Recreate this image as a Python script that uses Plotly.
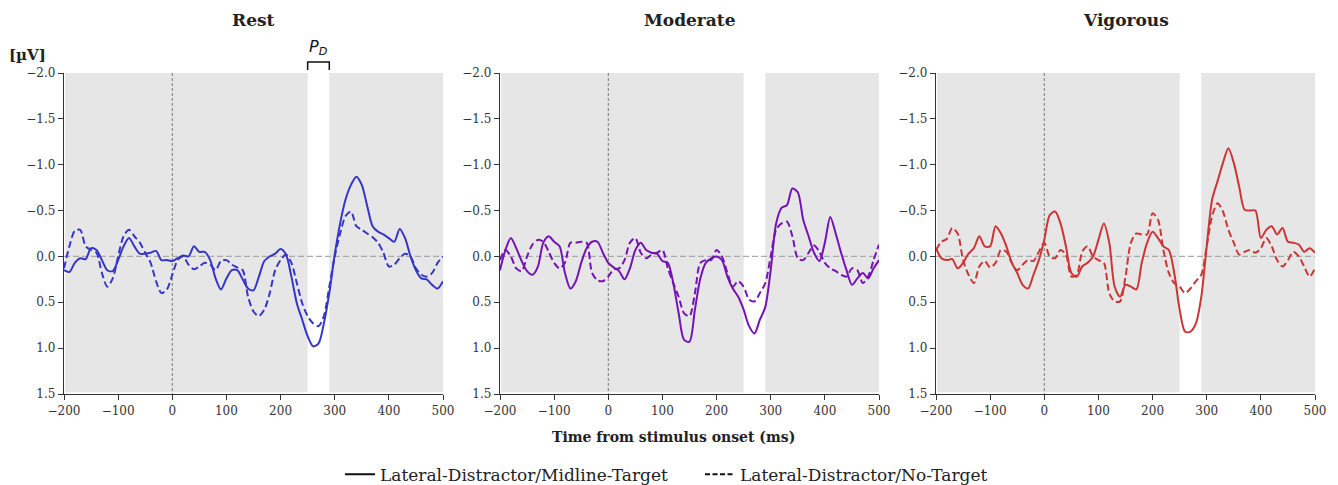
import plotly.graph_objects as go

# ---------------- data ----------------
time_ms = list(range(-200, 501, 10))

rest_midline = [0.15, 0.17, 0.07, 0.02, 0.03, -0.09, -0.07, 0.04, 0.15, 0.16,
                0.04, -0.11, -0.2, -0.11, -0.03, -0.03, -0.04, -0.06, 0.04, 0.04,
                0.05, 0.02, -0.01, 0.0, -0.11, -0.05, -0.05, 0.04, 0.24, 0.36,
                0.24, 0.15, 0.15, 0.25, 0.35, 0.37, 0.22, 0.05, 0.0, -0.03,
                -0.08, -0.02, 0.22, 0.51, 0.69, 0.87, 0.98, 0.95, 0.73, 0.4,
                -0.02, -0.36, -0.62, -0.78, -0.87, -0.78, -0.55, -0.33, -0.27, -0.24,
                -0.2, -0.16, -0.3, -0.2, 0.0, 0.15, 0.24, 0.25, 0.31, 0.35, 0.27]
rest_notarget = [0.13, -0.11, -0.28, -0.29, -0.11, -0.07, -0.04, 0.18, 0.33, 0.24,
                 0.0, -0.22, -0.29, -0.22, -0.15, -0.04, 0.07, 0.27, 0.4, 0.36,
                 0.2, 0.04, 0.0, 0.09, 0.14, 0.11, 0.07, 0.09, 0.15, 0.05,
                 0.04, 0.09, 0.12, 0.15, 0.44, 0.6, 0.65, 0.58, 0.4, 0.15,
                 0.04, -0.02, 0.07, 0.29, 0.51, 0.65, 0.73, 0.76, 0.65, 0.33,
                 0.0, -0.25, -0.44, -0.49, -0.33, -0.29, -0.25, -0.21, -0.15, -0.04,
                 0.11, 0.09, 0.02, -0.03, 0.0, 0.13, 0.2, 0.22, 0.18, 0.07, 0.0]

moderate_midline = [0.15, -0.07, -0.2, -0.09, 0.05, 0.16, 0.2, 0.11, -0.15, -0.22,
                    -0.16, -0.11, 0.18, 0.35, 0.27, 0.07, -0.09, -0.16, -0.16, -0.04,
                    0.07, 0.12, 0.16, 0.25, 0.13, -0.07, -0.15, -0.07, -0.04, -0.03,
                    0.05, 0.07, 0.29, 0.62, 0.91, 0.93, 0.58, 0.24, 0.07, 0.02,
                    0.0, 0.04, 0.22, 0.35, 0.44, 0.58, 0.76, 0.84, 0.69, 0.55,
                    0.15, -0.36, -0.53, -0.56, -0.74, -0.7, -0.4, -0.22, -0.04, 0.05,
                    -0.15, -0.43, -0.25, -0.04, 0.15, 0.31, 0.24, 0.18, 0.24, 0.13, 0.04]
moderate_notarget = [0.04, -0.07, 0.0, 0.13, 0.16, 0.0, -0.13, -0.18, -0.16, -0.05,
                     0.07, 0.13, 0.07, -0.15, -0.15, -0.16, -0.15, 0.18, 0.26, 0.27,
                     0.22, 0.14, 0.13, 0.04, -0.15, -0.2, -0.04, 0.02, -0.02, -0.04,
                     -0.07, 0.13, 0.29, 0.44, 0.62, 0.65, 0.4, 0.07, 0.04, 0.04,
                     -0.07, 0.0, 0.18, 0.33, 0.27, 0.33, 0.47, 0.49, 0.4, 0.29,
                     0.0, -0.29, -0.36, -0.38, -0.22, 0.02, 0.04, -0.04, -0.12, -0.05,
                     0.07, 0.13, 0.16, 0.2, 0.22, 0.13, 0.15, 0.29, 0.22, 0.04, -0.13]

vigorous_midline = [-0.09, 0.02, 0.04, 0.03, 0.13, 0.07, -0.03, -0.09, -0.22, -0.11,
                    -0.11, -0.33, -0.25, -0.11, 0.07, 0.18, 0.31, 0.35, 0.2, 0.04,
                    -0.18, -0.45, -0.49, -0.36, -0.11, 0.18, 0.22, 0.11, 0.07, 0.0,
                    -0.18, -0.36, -0.15, 0.33, 0.44, 0.31, 0.33, 0.36, 0.07, -0.15,
                    -0.27, -0.2, -0.11, -0.07, 0.18, 0.58, 0.82, 0.82, 0.73, 0.44,
                    -0.11, -0.62, -0.82, -1.02, -1.18, -1.02, -0.76, -0.51, -0.5, -0.5,
                    -0.2, -0.29, -0.33, -0.24, -0.31, -0.16, -0.15, -0.13, -0.05, -0.09, -0.04]
vigorous_notarget = [-0.07, -0.16, -0.19, -0.31, -0.25, 0.04, 0.2, 0.29, 0.11, 0.05,
                     0.12, 0.07, -0.07, -0.05, 0.07, 0.15, 0.09, 0.04, 0.05, -0.05,
                     -0.15, 0.0, 0.02, -0.07, -0.02, 0.22, 0.2, -0.05, -0.11, 0.0,
                     0.04, 0.07, 0.4, 0.49, 0.49, 0.22, -0.15, -0.25, -0.24, -0.24,
                     -0.47, -0.4, -0.07, 0.18, 0.29, 0.33, 0.4, 0.35, 0.27, 0.2,
                     -0.11, -0.44, -0.58, -0.49, -0.29, -0.15, -0.02, -0.05, -0.07, -0.04,
                     -0.09, -0.2, -0.11, 0.04, 0.11, 0.04, -0.05, 0.0, 0.11, 0.22, 0.13]

panel_titles = ["Rest", "Moderate", "Vigorous"]
panel_colors = ["#3535c8", "#7512b5", "#cc3535"]
panel_series = [(rest_midline, rest_notarget),
                (moderate_midline, moderate_notarget),
                (vigorous_midline, vigorous_notarget)]
legend_labels = ["Lateral-Distractor/Midline-Target", "Lateral-Distractor/No-Target"]
x_ticks = [-200, -100, 0, 100, 200, 300, 400, 500]
y_ticks = [-2.0, -1.5, -1.0, -0.5, 0.0, 0.5, 1.0, 1.5]
window = (250, 290)

# ---------------- layout helpers ----------------
W, H = 1338, 485
x_domains = [(64 / W, 443 / W), (500 / W, 879 / W), (936 / W, 1315 / W)]
y_domain = (1 - 394 / H, 1 - 73 / H)
FONT = "DejaVu Serif"

fig = go.Figure()
shapes = []
annotations = []

for i, (title, color, (solid, dashed)) in enumerate(zip(panel_titles, panel_colors, panel_series)):
    n = i + 1
    xa = "x" if n == 1 else f"x{n}"
    ya = "y" if n == 1 else f"y{n}"
    fig.add_trace(go.Scatter(x=time_ms, y=solid, mode="lines", xaxis=xa, yaxis=ya,
                             line=dict(color=color, width=2, shape="spline", smoothing=0.8),
                             showlegend=False, hoverinfo="skip"))
    fig.add_trace(go.Scatter(x=time_ms, y=dashed, mode="lines", xaxis=xa, yaxis=ya,
                             line=dict(color=color, width=2, shape="spline", smoothing=0.8,
                                       dash="7px,3.5px"),
                             showlegend=False, hoverinfo="skip"))
    axis_common = dict(showline=True, linecolor="#333333", linewidth=1.3, ticks="outside",
                       ticklen=5, tickwidth=1.2, tickcolor="#333333", showgrid=False,
                       zeroline=False, automargin=False,
                       tickfont=dict(family=FONT, size=12, color="#333333"))
    fig.update_layout(**{
        ("xaxis" if n == 1 else f"xaxis{n}"): dict(domain=x_domains[i], range=[-200, 500],
                                                   tickvals=x_ticks, anchor=ya, **axis_common),
        ("yaxis" if n == 1 else f"yaxis{n}"): dict(domain=y_domain, range=[1.5, -2.0],
                                                   tickvals=y_ticks, tickformat=".1f",
                                                   anchor=xa, **axis_common),
    })
    xr = xa
    yr = ya
    # shaded regions outside the window
    shapes.append(dict(type="rect", xref=xr, yref=yr, x0=-198, x1=window[0], y0=-2.0, y1=1.48,
                       fillcolor="#e6e6e6", line=dict(width=0), layer="below"))
    shapes.append(dict(type="rect", xref=xr, yref=yr, x0=window[1], x1=500, y0=-2.0, y1=1.48,
                       fillcolor="#e6e6e6", line=dict(width=0), layer="below"))
    # zero lines
    shapes.append(dict(type="line", xref=xr, yref=yr, x0=-200, x1=500, y0=0, y1=0,
                       line=dict(color="#aaaaaa", width=1.3, dash="6px,3px"), layer="below"))
    shapes.append(dict(type="line", xref=xr, yref=yr, x0=0, x1=0, y0=-2.0, y1=1.5,
                       line=dict(color="#777777", width=1, dash="3px,2px"), layer="below"))
    # title
    annotations.append(dict(text=f"<b>{title}</b>", xref="paper", yref="paper",
                            x=(x_domains[i][0] + x_domains[i][1]) / 2, y=1 - 20 / H,
                            showarrow=False, xanchor="center", yanchor="middle",
                            font=dict(family=FONT, size=17, color="#222222")))

# P_D bracket on Rest panel
shapes.append(dict(type="path", xref="x", yref="paper",
                   path=f"M {window[0]},{1 - 70 / H} L {window[0]},{1 - 62 / H} "
                        f"L {window[1]},{1 - 62 / H} L {window[1]},{1 - 70 / H}",
                   line=dict(color="#111111", width=1.5)))
annotations.append(dict(text="<i>P</i><sub><i>D</i></sub>", xref="x", yref="paper",
                        x=(window[0] + window[1]) / 2, y=1 - 48 / H, showarrow=False,
                        xanchor="center", yanchor="middle",
                        font=dict(family="DejaVu Sans", size=16, color="#111111")))
annotations.append(dict(text="<b>[µV]</b>", xref="paper", yref="paper", x=27 / W, y=1 - 55 / H,
                        showarrow=False, xanchor="center", yanchor="middle",
                        font=dict(family=FONT, size=15, color="#222222")))
annotations.append(dict(text="<b>Time from stimulus onset (ms)</b>", xref="paper", yref="paper",
                        x=673 / W, y=1 - 437 / H, showarrow=False, xanchor="center",
                        yanchor="middle", font=dict(family=FONT, size=14, color="#222222")))

# legend entries
fig.add_trace(go.Scatter(x=[None], y=[None], mode="lines", name=legend_labels[0],
                         line=dict(color="#111111", width=2)))
fig.add_trace(go.Scatter(x=[None], y=[None], mode="lines", name=legend_labels[1],
                         line=dict(color="#111111", width=2, dash="5px,2.5px")))

fig.update_layout(
    width=W, height=H,
    margin=dict(l=0, r=0, t=0, b=0, autoexpand=False),
    paper_bgcolor="white", plot_bgcolor="white",
    shapes=shapes, annotations=annotations,
    legend=dict(orientation="h", x=700 / W, xanchor="center", y=-0.016, yanchor="bottom",
                font=dict(family=FONT, size=17, color="#222222"), itemwidth=30,
                entrywidth=315, entrywidthmode="pixels",
                tracegroupgap=0, bgcolor="rgba(0,0,0,0)"),
)

fig.write_html("out.html")
